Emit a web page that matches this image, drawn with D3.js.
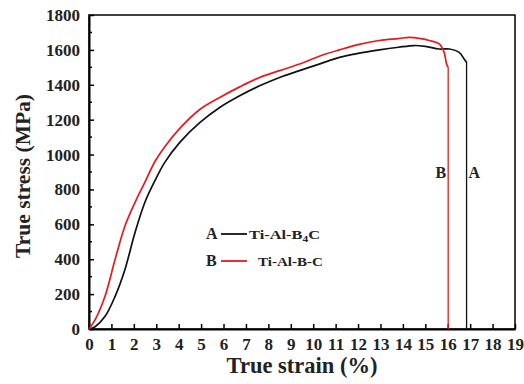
<!DOCTYPE html>
<html>
<head>
<meta charset="utf-8">
<script src="https://cdn.jsdelivr.net/npm/d3@7"></script>
<style>
  body { margin: 0; background: #fff; }
  svg text { font-family: "Liberation Serif", "DejaVu Serif", serif; font-weight: bold; }
</style>
</head>
<body>
<div id="chart"></div>
<script>
// Stress-strain curves (last point = after fracture)
const strainA = [0, 0.27, 0.71, 1.16, 1.6, 2.05, 2.49, 2.94, 3.38, 4.05, 4.94, 5.83, 6.72, 7.61, 8.5, 9.39, 10.3, 11.17, 12.0, 12.95, 13.8, 14.5, 15.0, 15.62, 16.07, 16.51, 16.73, 16.84, 16.84];
const stressA = [0, 13, 71, 186, 340, 552, 725, 850, 955, 1070, 1183, 1270, 1337, 1394, 1442, 1481, 1520, 1557, 1580, 1600, 1615, 1625, 1620, 1605, 1605, 1586, 1548, 1530, 0];
const strainB = [0, 0.27, 0.71, 1.16, 1.6, 2.05, 2.49, 2.94, 3.38, 4.05, 4.94, 5.83, 6.72, 7.61, 8.5, 9.39, 10.3, 11.17, 12.0, 12.95, 13.8, 14.29, 14.8, 15.18, 15.62, 15.84, 15.95, 16.02, 16.02];
const stressB = [0, 52, 186, 397, 589, 725, 840, 960, 1045, 1150, 1258, 1327, 1388, 1442, 1481, 1519, 1565, 1600, 1630, 1654, 1665, 1672, 1665, 1654, 1634, 1586, 1519, 1500, 0];

const xTicks = d3.range(0, 20, 1);
const yTicks = d3.range(0, 2000, 200);
const yMinor = d3.range(100, 1800, 200);

const width = 524, height = 384;
const margin = { top: 15, right: 9, bottom: 55, left: 89 };

const svg = d3.select("#chart").append("svg")
    .attr("width", width)
    .attr("height", height);

const x = d3.scaleLinear().domain([0, 19]).range([margin.left, width - margin.right]);
const y = d3.scaleLinear().domain([0, 1800]).range([height - margin.bottom, margin.top]);

// frame
svg.append("rect")
    .attr("x", x(0)).attr("y", y(1800))
    .attr("width", x(19) - x(0)).attr("height", y(0) - y(1800))
    .attr("fill", "none").attr("stroke", "#000").attr("stroke-width", 1.5);

// x axis, ticks pointing in
const xAxis = svg.append("g")
    .attr("transform", `translate(0,${y(0)})`)
    .call(d3.axisBottom(x).tickValues(xTicks).tickFormat(d3.format("d"))
        .tickSize(-5).tickPadding(9).tickSizeOuter(0));
xAxis.select(".domain").attr("stroke-width", 2);
xAxis.selectAll(".tick line").attr("stroke-width", 1.5);
xAxis.selectAll("text").attr("font-size", 17).attr("fill", "#222");

// y axis
const yAxis = svg.append("g")
    .attr("transform", `translate(${x(0)},0)`)
    .call(d3.axisLeft(y).tickValues(yTicks).tickFormat(d3.format("d"))
        .tickSize(-5).tickPadding(9).tickSizeOuter(0));
yAxis.select(".domain").attr("stroke-width", 2);
yAxis.selectAll(".tick line").attr("stroke-width", 1.5);
yAxis.selectAll("text").attr("font-size", 17).attr("fill", "#222");

svg.append("g").selectAll("line")
    .data(yMinor).join("line")
    .attr("x1", x(0)).attr("x2", x(0) + 3)
    .attr("y1", d => y(d)).attr("y2", d => y(d))
    .attr("stroke", "#000").attr("stroke-width", 1.5);

// axis titles
svg.append("text")
    .attr("x", (x(0) + x(19)) / 2).attr("y", 373)
    .attr("text-anchor", "middle").attr("font-size", 22.5).attr("fill", "#222")
    .text("True strain (%)");

svg.append("text")
    .attr("transform", `translate(30,${(y(0) + y(1800)) / 2 + 4}) rotate(-90)`)
    .attr("text-anchor", "middle").attr("font-size", 21.5).attr("fill", "#222")
    .text("True stress (MPa)");

// curves: smooth loading part, then a straight fracture drop
const smooth = d3.line().x(d => x(d[0])).y(d => y(d[1])).curve(d3.curveCatmullRom.alpha(0.5));
const straight = d3.line().x(d => x(d[0])).y(d => y(d[1]));
const series = [
    { strain: strainA, stress: stressA, color: "#111" },
    { strain: strainB, stress: stressB, color: "#e8191c" }
];
series.forEach(s => {
    const pts = s.strain.map((v, i) => [v, s.stress[i]]);
    svg.append("path")
        .datum(pts.slice(0, -1))
        .attr("d", smooth)
        .attr("fill", "none")
        .attr("stroke", s.color)
        .attr("stroke-width", 1.7)
        .attr("stroke-linejoin", "round");
    svg.append("path")
        .datum(pts.slice(-2))
        .attr("d", straight)
        .attr("fill", "none")
        .attr("stroke", s.color)
        .attr("stroke-width", 1.3);
});

// labels next to the fracture drops
svg.append("text").attr("x", x(16.02) - 2).attr("y", 178)
    .attr("text-anchor", "end").attr("font-size", 16).attr("fill", "#222").text("B");
svg.append("text").attr("x", x(16.84) + 2).attr("y", 178)
    .attr("font-size", 16).attr("fill", "#222").text("A");

// legend
const legend = svg.append("g");
legend.append("text").attr("x", 206).attr("y", 239).attr("font-size", 16).attr("fill", "#222").text("A");
legend.append("line").attr("x1", 221).attr("x2", 247).attr("y1", 234).attr("y2", 234)
    .attr("stroke", "#111").attr("stroke-width", 1.8);
const tA = legend.append("text").attr("x", 249).attr("y", 239).attr("font-size", 13)
    .attr("fill", "#222").attr("textLength", 71).attr("lengthAdjust", "spacingAndGlyphs");
tA.append("tspan").text("Ti-Al-B");
tA.append("tspan").attr("font-size", 9).attr("dy", 3).text("4");
tA.append("tspan").attr("dy", -3).text("C");

legend.append("text").attr("x", 206).attr("y", 266).attr("font-size", 16).attr("fill", "#222").text("B");
legend.append("line").attr("x1", 221).attr("x2", 247).attr("y1", 261).attr("y2", 261)
    .attr("stroke", "#e8191c").attr("stroke-width", 1.8);
legend.append("text").attr("x", 258).attr("y", 266).attr("font-size", 13)
    .attr("fill", "#222").attr("textLength", 65).attr("lengthAdjust", "spacingAndGlyphs")
    .text("Ti-Al-B-C");
</script>
</body>
</html>
